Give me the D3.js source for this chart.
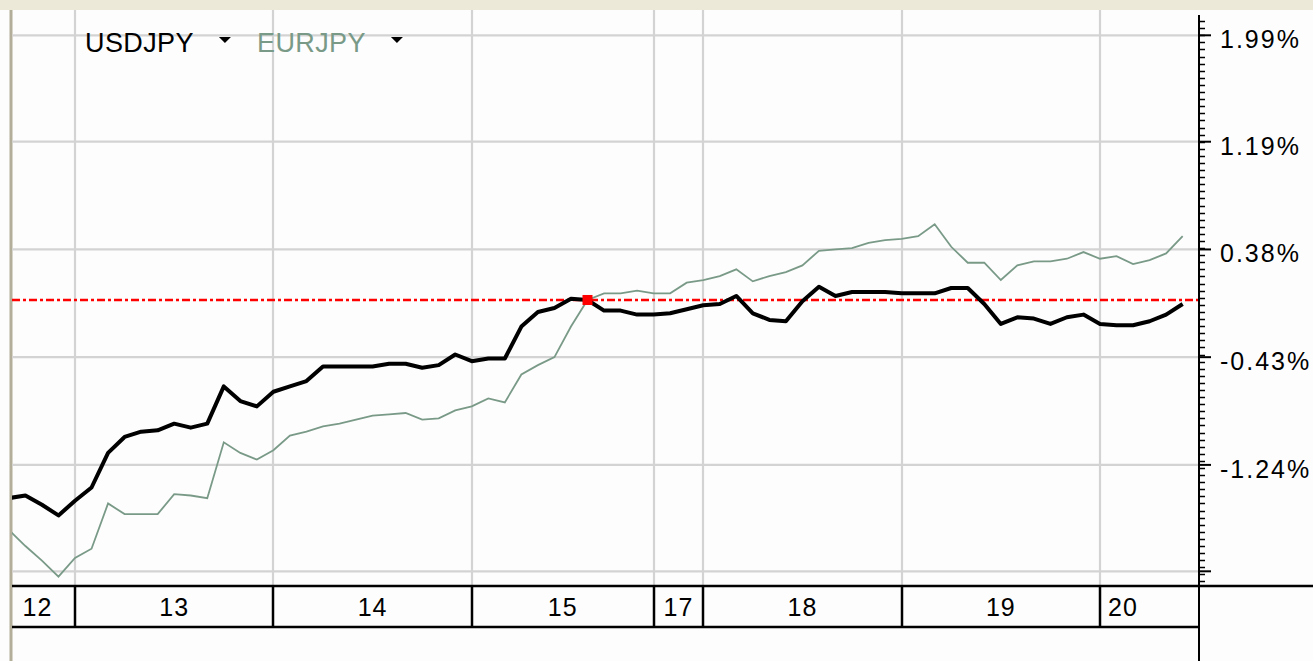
<!DOCTYPE html>
<html>
<head>
<meta charset="utf-8">
<script src="https://cdn.jsdelivr.net/npm/d3@7"></script>
<style>
  html, body { margin: 0; padding: 0; background: #fdfdfd; }
  svg { display: block; }
  text { font-family: "Liberation Sans", Arial, sans-serif; }
</style>
</head>
<body>
<svg width="1313" height="661"></svg>
<script>
// 2-hour steps, % change from the marked point (index 35)
var usdjpy = [-1.49, -1.47, -1.54, -1.62, -1.51, -1.41, -1.15, -1.03, -0.99, -0.98, -0.93, -0.96,
  -0.93, -0.65, -0.76, -0.80, -0.69, -0.65, -0.61, -0.50, -0.50, -0.50, -0.50, -0.48,
  -0.48, -0.51, -0.49, -0.41, -0.46, -0.44, -0.44, -0.20, -0.09, -0.06, 0.01, 0,
  -0.08, -0.08, -0.11, -0.11, -0.10, -0.07, -0.04, -0.03, 0.03, -0.10, -0.15, -0.16,
  -0.01, 0.10, 0.03, 0.06, 0.06, 0.06, 0.05, 0.05, 0.05, 0.09, 0.09, -0.03,
  -0.18, -0.13, -0.14, -0.18, -0.13, -0.11, -0.18, -0.19, -0.19, -0.16, -0.11, -0.03];

var eurjpy = [-1.73, -1.85, -1.96, -2.08, -1.94, -1.87, -1.53, -1.61, -1.61, -1.61, -1.46, -1.47,
  -1.49, -1.07, -1.15, -1.20, -1.13, -1.02, -0.99, -0.95, -0.93, -0.90, -0.87, -0.86,
  -0.85, -0.90, -0.89, -0.83, -0.80, -0.74, -0.77, -0.56, -0.49, -0.43, -0.20, 0,
  0.05, 0.05, 0.07, 0.05, 0.05, 0.13, 0.15, 0.18, 0.23, 0.14, 0.18, 0.21,
  0.26, 0.37, 0.38, 0.39, 0.43, 0.45, 0.46, 0.48, 0.57, 0.40, 0.28, 0.28,
  0.15, 0.26, 0.29, 0.29, 0.31, 0.36, 0.31, 0.33, 0.27, 0.30, 0.35, 0.48];

var basePoint = 35;

var days      = ["12", "13", "14", "15", "17", "18", "19", "20"];
var dayStarts = [-1, 4, 16, 28, 39, 42, 54, 66];
var lastIndex = 72;

var yTicks      = [1.99, 1.19, 0.38, -0.43, -1.24, -2.04];
var yTickLabels = ["1.99%", "1.19%", "0.38%", "-0.43%", "-1.24%", ""];
var minorPerMajor = 15;

var seriesNames  = ["USDJPY", "EURJPY"];
var seriesColors = ["#000000", "#7a9a88"];

var width = 1313;
var height = 661;
var plot = {left: 12, top: 10, right: 1199, bottom: 586};
var axisBoxBottom = 627;

var xScale = d3.scaleLinear().domain([0, lastIndex]).range([8.87, 1199.2]);
var yScale = d3.scaleLinear().domain([-2.04, 1.99]).range([571.3, 35.3]);

var svg = d3.select('svg');

svg.append('rect')
  .attr('width', width).attr('height', height)
  .attr('fill', '#fdfdfd');

// top band + left frame
svg.append('rect')
  .attr('x', 0).attr('y', 0)
  .attr('width', width).attr('height', plot.top)
  .attr('fill', '#ece9d8');
svg.append('line')
  .attr('x1', 11).attr('x2', 11)
  .attr('y1', plot.top).attr('y2', height)
  .attr('stroke', '#b3ae99').attr('stroke-width', 3);

// grid
svg.append('g').selectAll('line')
  .data(yTicks)
  .enter()
  .append('line')
  .attr('x1', plot.left).attr('x2', plot.right)
  .attr('y1', function (d) { return yScale(d); })
  .attr('y2', function (d) { return yScale(d); })
  .attr('stroke', '#d3d3d3').attr('stroke-width', 2.2);

svg.append('g').selectAll('line')
  .data(dayStarts.slice(1))
  .enter()
  .append('line')
  .attr('x1', function (d) { return Math.round(xScale(d)); })
  .attr('x2', function (d) { return Math.round(xScale(d)); })
  .attr('y1', plot.top).attr('y2', plot.bottom)
  .attr('stroke', '#d3d3d3').attr('stroke-width', 2.2);

// zero reference
svg.append('line')
  .attr('x1', plot.left).attr('x2', plot.right)
  .attr('y1', yScale(0)).attr('y2', yScale(0))
  .attr('stroke', '#ff0000').attr('stroke-width', 2.5)
  .attr('stroke-dasharray', '8,3,3,3');

svg.append('clipPath').attr('id', 'plotClip')
  .append('rect')
  .attr('x', plot.left).attr('y', plot.top)
  .attr('width', plot.right - plot.left).attr('height', plot.bottom - plot.top);

var line = d3.line()
  .x(function (d, i) { return xScale(i); })
  .y(function (d) { return yScale(d); });

var lines = svg.append('g').attr('clip-path', 'url(#plotClip)');

lines.append('path')
  .datum(eurjpy)
  .attr('d', line)
  .attr('fill', 'none')
  .attr('stroke', seriesColors[1])
  .attr('stroke-width', 1.8);

lines.append('path')
  .datum(usdjpy)
  .attr('d', line)
  .attr('fill', 'none')
  .attr('stroke', seriesColors[0])
  .attr('stroke-width', 4)
  .attr('stroke-linejoin', 'round');

svg.append('rect')
  .attr('x', xScale(basePoint) - 5)
  .attr('y', yScale(usdjpy[basePoint]) - 5)
  .attr('width', 10).attr('height', 10)
  .attr('fill', '#ff0000');

// legend
var legendX = [85, 257];
var legend = svg.append('g').selectAll('g')
  .data(seriesNames)
  .enter()
  .append('g')
  .attr('transform', function (d, i) { return 'translate(' + legendX[i] + ',52)'; });

legend.append('text')
  .style('font-size', '27px')
  .style('letter-spacing', '0.4px')
  .attr('fill', function (d, i) { return seriesColors[i]; })
  .text(function (d) { return d; });

legend.append('path')
  .attr('d', function () {
    var w = this.parentNode.querySelector('text').getComputedTextLength();
    var cx = w + 31;
    return 'M' + (cx - 6) + ',-15 L' + (cx + 6) + ',-15 L' + cx + ',-9 Z';
  })
  .attr('fill', '#000');

// right value axis
var axisX = plot.right;
svg.append('line')
  .attr('x1', axisX).attr('x2', axisX)
  .attr('y1', 15).attr('y2', height)
  .attr('stroke', '#000').attr('stroke-width', 2);

var step = (yTicks[0] - yTicks[1]) / minorPerMajor;
var minorTicks = d3.range(-200, 200)
  .map(function (j) { return yTicks[0] + j * step; })
  .filter(function (v) { return yScale(v) > 17 && yScale(v) < plot.bottom - 4; });

svg.append('g').selectAll('line')
  .data(minorTicks)
  .enter()
  .append('line')
  .attr('x1', axisX).attr('x2', axisX + 6)
  .attr('y1', function (d) { return Math.round(yScale(d)) + 0.5; })
  .attr('y2', function (d) { return Math.round(yScale(d)) + 0.5; })
  .attr('stroke', '#000').attr('stroke-width', 1.5);

svg.append('g').selectAll('line')
  .data(yTicks)
  .enter()
  .append('line')
  .attr('x1', axisX).attr('x2', axisX + 12)
  .attr('y1', function (d) { return yScale(d); })
  .attr('y2', function (d) { return yScale(d); })
  .attr('stroke', '#000').attr('stroke-width', 2);

svg.append('g').selectAll('text')
  .data(yTicks)
  .enter()
  .append('text')
  .attr('x', 1220)
  .attr('y', function (d) { return yScale(d) + 13; })
  .style('font-size', '25px')
  .style('letter-spacing', '2px')
  .attr('fill', '#000')
  .text(function (d, i) { return yTickLabels[i]; });

// day axis box
svg.append('line')
  .attr('x1', plot.left).attr('x2', width)
  .attr('y1', plot.bottom).attr('y2', plot.bottom)
  .attr('stroke', '#000').attr('stroke-width', 2.5);
svg.append('line')
  .attr('x1', plot.left).attr('x2', axisX)
  .attr('y1', axisBoxBottom).attr('y2', axisBoxBottom)
  .attr('stroke', '#000').attr('stroke-width', 2.5);

svg.append('g').selectAll('line')
  .data(dayStarts.slice(1))
  .enter()
  .append('line')
  .attr('x1', function (d) { return Math.round(xScale(d)); })
  .attr('x2', function (d) { return Math.round(xScale(d)); })
  .attr('y1', plot.bottom).attr('y2', axisBoxBottom)
  .attr('stroke', '#000').attr('stroke-width', 2.5);

svg.append('g').selectAll('text')
  .data(days)
  .enter()
  .append('text')
  .attr('x', function (d, i) {
    var a = Math.max(0, xScale(dayStarts[i]));
    if (i === days.length - 1) return a + 8;
    return (a + xScale(dayStarts[i + 1])) / 2;
  })
  .attr('y', 616)
  .style('text-anchor', function (d, i) { return i === days.length - 1 ? 'start' : 'middle'; })
  .style('font-size', '25px')
  .style('letter-spacing', '1px')
  .attr('fill', '#000')
  .text(function (d) { return d; });
</script>
</body>
</html>
